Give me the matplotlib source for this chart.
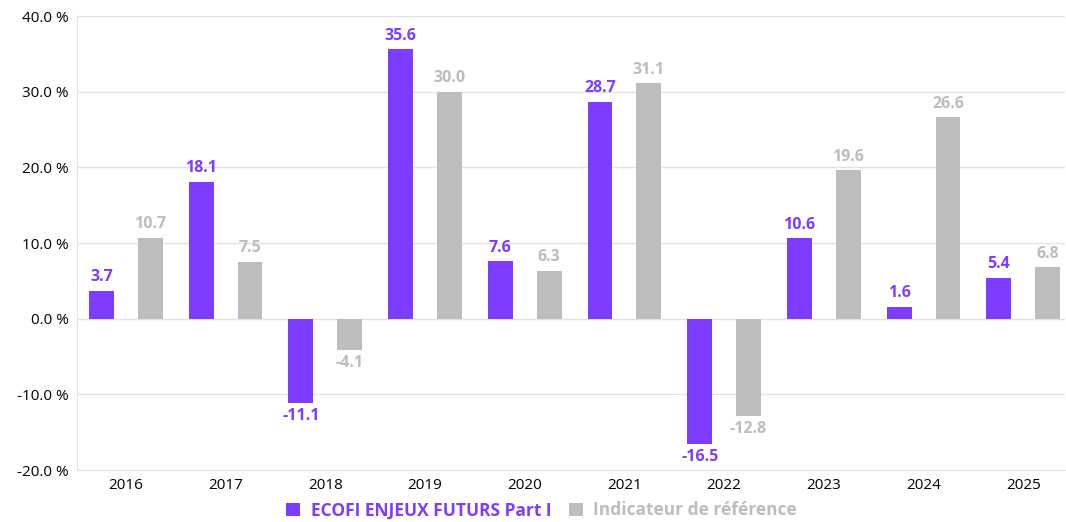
import matplotlib.pyplot as plt
import numpy as np

years = ["2016", "2017", "2018", "2019", "2020", "2021", "2022", "2023", "2024", "2025"]
fonds = [3.7, 18.1, -11.1, 35.6, 7.6, 28.7, -16.5, 10.6, 1.6, 5.4]
indice = [10.7, 7.5, -4.1, 30.0, 6.3, 31.1, -12.8, 19.6, 26.6, 6.8]

violet = "#7d3cff"
gris = "#bdbdbd"

fig = plt.figure(figsize=(10.66, 5.22), dpi=100)
ax = fig.add_axes([0.0722, 0.0996, 0.927, 0.8697])

x = np.arange(len(years))
w = 0.25
ax.bar(x - 0.245, fonds, w, color=violet, label="ECOFI ENJEUX FUTURS Part I", zorder=3)
ax.bar(x + 0.245, indice, w, color=gris, label="Indicateur de référence", zorder=3)

for xi, v in zip(x, fonds):
    ax.annotate(f"{v:.1f}", (xi - 0.245, v), xytext=(0, 4 if v >= 0 else -4),
                textcoords="offset points", ha="center", va="bottom" if v >= 0 else "top",
                color=violet, fontsize=11.5, fontweight="bold", family="Open Sans")
for xi, v in zip(x, indice):
    ax.annotate(f"{v:.1f}", (xi + 0.245, v), xytext=(0, 4 if v >= 0 else -4),
                textcoords="offset points", ha="center", va="bottom" if v >= 0 else "top",
                color=gris, fontsize=11.5, fontweight="bold", family="Open Sans")

ax.set_ylim(-20, 40)
ax.set_yticks(np.arange(-20, 41, 10))
ax.set_yticklabels([f"{t:.1f} %" for t in np.arange(-20, 41, 10)], family="Open Sans", fontsize=11)
ax.set_xlim(-0.49, 9.42)
ax.set_xticks(x)
ax.set_xticklabels(years, family="Open Sans", fontsize=11)
ax.tick_params(length=0, pad=6)
ax.grid(axis="y", color="#e3e3e3", lw=1, zorder=0)
for s in ["top", "right"]:
    ax.spines[s].set_visible(False)
ax.spines["left"].set_color("#e3e3e3")
ax.spines["bottom"].set_color("#e3e3e3")

leg = fig.legend(loc="lower center", bbox_to_anchor=(0.508, -0.025), ncol=2, frameon=False,
                 prop={"family": "Open Sans", "weight": "bold", "size": 12.5},
                 handlelength=0.8, handleheight=0.8, handletextpad=0.6, columnspacing=1.0)
for t, c in zip(leg.get_texts(), [violet, gris]):
    t.set_color(c)

fig.savefig("out.png", dpi=100)
